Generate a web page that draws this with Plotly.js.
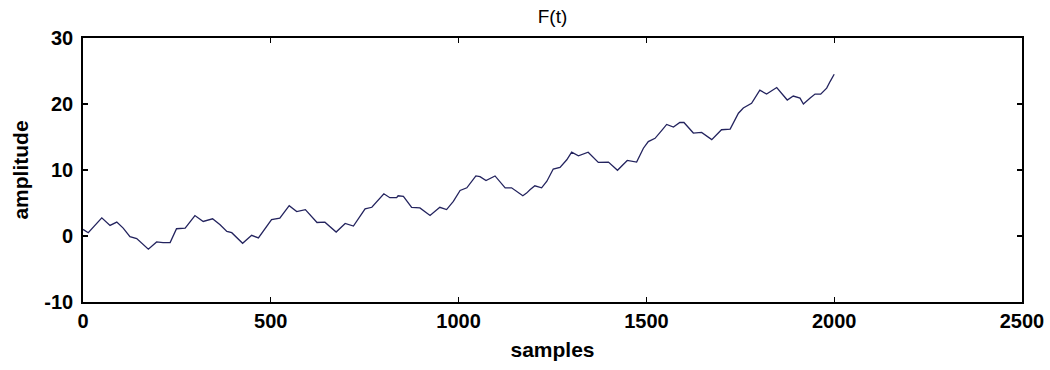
<!DOCTYPE html>
<html>
<head>
<meta charset="utf-8">
<script src="https://cdn.plot.ly/plotly-3.0.1.min.js"></script>
<style>
  html, body { margin: 0; padding: 0; background: #ffffff; }
  #chart { width: 1050px; height: 370px; }
</style>
</head>
<body>
<div id="chart"></div>
<script>
// Sample index of each vertex of the F(t) trace
const samples = [
  0, 14, 50, 72, 90, 107, 125, 143, 174, 196, 213, 232, 249, 272, 298, 320,
  345, 365, 383, 396, 425, 449, 467, 502, 524, 549, 569, 592, 623, 644, 674,
  698, 720, 751, 769, 791, 801, 817, 835, 839, 853, 875, 897, 924, 950, 968,
  986, 1004, 1022, 1046, 1057, 1073, 1097, 1124, 1141, 1171, 1181, 1190, 1203,
  1221, 1235, 1252, 1270, 1288, 1301, 1319, 1345, 1372, 1399, 1423, 1449, 1474,
  1492, 1505, 1523, 1541, 1554, 1572, 1589, 1600, 1625, 1647, 1674, 1700, 1723,
  1745, 1758, 1780, 1802, 1820, 1847, 1875, 1891, 1909, 1918, 1936, 1949, 1964,
  1980, 1989, 2000
];

// Amplitude of F(t) at each of those samples
const amplitude = [
  1.0, 0.5, 2.75, 1.6, 2.1, 1.2, -0.1, -0.4, -2.0, -0.9, -1.0, -1.0, 1.1, 1.2, 3.1, 2.2,
  2.6, 1.7, 0.7, 0.5, -1.1, 0.1, -0.3, 2.5, 2.7, 4.6, 3.7, 4.0, 2.05, 2.1, 0.6,
  1.9, 1.5, 4.1, 4.35, 5.8, 6.4, 5.8, 5.8, 6.1, 6.0, 4.35, 4.25, 3.1, 4.35, 4.0,
  5.25, 6.9, 7.3, 9.1, 9.0, 8.4, 9.1, 7.3, 7.3, 6.1, 6.5, 7.0, 7.6,
  7.3, 8.3, 10.15, 10.4, 11.55, 12.7, 12.15, 12.7, 11.15, 11.2, 9.95, 11.45, 11.2,
  13.3, 14.3, 14.8, 16.0, 16.9, 16.5, 17.2, 17.2, 15.6, 15.7, 14.6, 16.1, 16.2,
  18.6, 19.4, 20.1, 22.1, 21.5, 22.5, 20.6, 21.2, 20.9, 20.0, 20.9, 21.5, 21.5,
  22.4, 23.4, 24.5
];

const xTicks = [0, 500, 1000, 1500, 2000, 2500];
const yTicks = [-10, 0, 10, 20, 30];

const labelFont = { family: 'Liberation Sans, Arial, sans-serif', size: 21, color: '#000000', weight: 'bold' };
const tickFont = { family: 'Liberation Sans, Arial, sans-serif', size: 20, color: '#000000', weight: 'bold' };

const trace = {
  x: samples,
  y: amplitude,
  type: 'scatter',
  mode: 'lines',
  line: { color: '#23235e', width: 1.3 },
  hoverinfo: 'skip'
};

const axisCommon = {
  showgrid: false,
  zeroline: false,
  showline: true,
  linecolor: '#000000',
  linewidth: 1.8,
  mirror: 'allticks',
  ticks: 'inside',
  ticklen: 5,
  tickwidth: 1.3,
  tickcolor: '#000000',
  tickfont: tickFont,
  fixedrange: true
};

const layout = {
  width: 1050,
  height: 370,
  margin: { l: 83, r: 28, t: 38, b: 68 },
  paper_bgcolor: '#ffffff',
  plot_bgcolor: '#ffffff',
  showlegend: false,
  title: {
    text: 'F(t)',
    font: { family: 'Liberation Sans, Arial, sans-serif', size: 19, color: '#000000' },
    x: 0.5262,
    xanchor: 'center',
    y: 0.955,
    yanchor: 'middle'
  },
  xaxis: Object.assign({}, axisCommon, {
    range: [0, 2500],
    tickvals: xTicks,
    ticktext: xTicks.map(String),
    ticklabelstandoff: 0,
    title: { text: 'samples', font: labelFont, standoff: 11 }
  }),
  yaxis: Object.assign({}, axisCommon, {
    range: [-10, 30],
    tickvals: yTicks,
    ticktext: yTicks.map(String),
    ticklabelstandoff: 4,
    title: { text: 'amplitude', font: labelFont, standoff: 10 }
  })
};

Plotly.newPlot('chart', [trace], layout, { displayModeBar: false, staticPlot: true });
</script>
</body>
</html>
